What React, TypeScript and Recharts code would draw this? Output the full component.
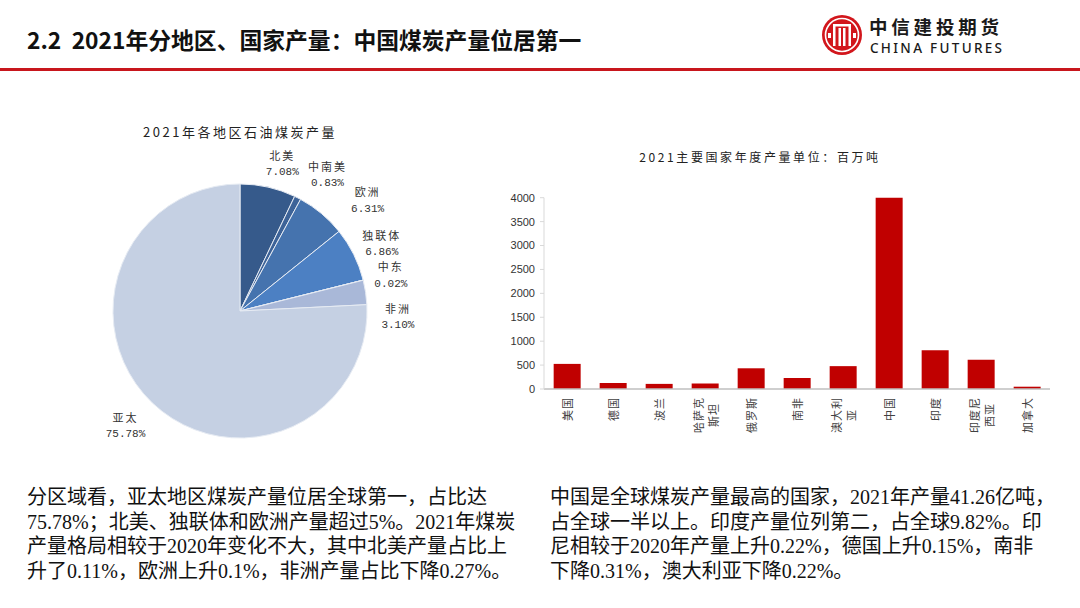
import React from "react";
import { PieChart, Pie, Cell, BarChart, Bar, XAxis, YAxis } from "recharts";

// ---------- data ----------
const regions = ["北美", "中南美", "欧洲", "独联体", "中东", "非洲", "亚太"];
const regionShares = [7.08, 0.83, 6.31, 6.86, 0.02, 3.1, 75.78];
const regionColors = ["#365a8b", "#3d6398", "#4573ae", "#4c80c3", "#6f95c9", "#a9b8d8", "#c5d0e3"];

const countries = ["美国", "德国", "波兰", "哈萨克\n斯坦", "俄罗斯", "南非", "澳大利\n亚", "中国", "印度", "印度尼\n西亚", "加拿大"];
const output = [525, 126, 107, 115, 433, 230, 478, 4126, 811, 614, 48];
const yTicks = [0, 500, 1000, 1500, 2000, 2500, 3000, 3500, 4000];

const pieTitle = "2021年各地区石油煤炭产量";
const barTitle = "2021主要国家年度产量单位：百万吨";
const headerTitle = "2.2  2021年分地区、国家产量：中国煤炭产量位居第一";

const leftText = [
  "分区域看，亚太地区煤炭产量位居全球第一，占比达",
  "75.78%；北美、独联体和欧洲产量超过5%。2021年煤炭",
  "产量格局相较于2020年变化不大，其中北美产量占比上",
  "升了0.11%，欧洲上升0.1%，非洲产量占比下降0.27%。",
];
const rightText = [
  "中国是全球煤炭产量最高的国家，2021年产量41.26亿吨，",
  "占全球一半以上。印度产量位列第二，占全球9.82%。印",
  "尼相较于2020年产量上升0.22%，德国上升0.15%，南非",
  "下降0.31%，澳大利亚下降0.22%。",
];

// label layout tweaks (angle nudge in degrees clockwise, extra radius in px)
const labelNudge = [
  [3.3, 26],
  [5.7, 35],
  [9.2, 42],
  [1.0, 30],
  [0.8, 28],
  [10.5, 31],
  [1.4, 35],
];

const pieData = regions.map((name, i) => ({ name, value: regionShares[i] }));
const barData = countries.map((name, i) => ({ name, value: output[i] }));

const CJK = '"Noto Sans CJK SC", "Noto Sans", sans-serif';

const PieLabel = (props: any) => {
  const { cx, cy, midAngle, outerRadius, index } = props;
  const [da, dr] = labelNudge[index] || [0, 30];
  const cw = 90 - midAngle + da;
  const rad = (cw * Math.PI) / 180;
  const r = outerRadius + dr;
  const x = cx + r * Math.sin(rad);
  const y = cy - r * Math.cos(rad);
  return (
    <g>
      <text x={x} y={y - 9} textAnchor="middle" dominantBaseline="central" fontSize={11} fill="#333" fontFamily={CJK} letterSpacing={2}>
        {regions[index]}
      </text>
      <text x={x} y={y + 8.5} textAnchor="middle" dominantBaseline="central" fontSize={11} fill="#333" fontFamily='"Liberation Mono", monospace'>
        {regionShares[index].toFixed(2) + "%"}
      </text>
    </g>
  );
};

const XTick = (props: any) => {
  const { x, y, payload } = props;
  const lines: string[] = String(payload.value).split("\n");
  const fs = 11;
  const maxLen = Math.max(...lines.map((l) => l.length));
  const block = maxLen * (fs + 1);
  const gap = 15;
  const n = lines.length;
  return (
    <g>
      {lines.map((l, i) => {
        const lx = x + (i - (n - 1) / 2) * gap;
        return (
          <text
            key={i}
            transform={`translate(${lx},${y}) rotate(-90)`}
            x={-block / 2}
            y={0}
            textAnchor="middle"
            dominantBaseline="central"
            fontSize={fs}
            letterSpacing={1}
            fill="#404040"
            fontFamily={CJK}
          >
            {l}
          </text>
        );
      })}
    </g>
  );
};

const Logo = () => (
  <svg width={42} height={42} viewBox="0 0 42 42" style={{ position: "absolute", left: 821, top: 14 }}>
    <circle cx={21} cy={21} r={20} fill="#d2161c" />
    <circle cx={21} cy={21} r={16.5} fill="none" stroke="#fff" strokeWidth={1.6} />
    <rect x={12} y={10} width={18} height={2.5} fill="#fff" />
    <rect x={12} y={10} width={2.5} height={22} fill="#fff" />
    <rect x={27.5} y={10} width={2.5} height={22} fill="#fff" />
    <rect x={17.5} y={14} width={2.5} height={18} fill="#fff" />
    <rect x={22} y={14} width={2.5} height={18} fill="#fff" />
    <rect x={7} y={19} width={3} height={5} fill="#fff" />
    <rect x={32} y={19} width={3} height={5} fill="#fff" />
  </svg>
);

export default function App() {
  return (
    <div style={{ position: "absolute", left: 0, top: 0, width: 1080, height: 608, background: "#fff", overflow: "hidden" }}>
      {/* header */}
      <div
        style={{
          position: "absolute",
          left: 27,
          top: 22,
          fontFamily: CJK,
          fontWeight: 700,
          fontSize: 22.8,
          lineHeight: "36px",
          color: "#111",
          whiteSpace: "pre",
        }}
      >
        {headerTitle}
      </div>
      <Logo />
      <div style={{ position: "absolute", left: 869, top: 16.75, fontFamily: CJK, fontWeight: 700, fontSize: 18.5, lineHeight: "18.5px", color: "#1a1a1a", letterSpacing: 3.8 }}>
        中信建投期货
      </div>
      <div style={{ position: "absolute", left: 870, top: 41.5, fontFamily: '"Noto Sans", sans-serif', fontWeight: 500, fontSize: 13.5, lineHeight: "13.5px", color: "#1a1a1a", letterSpacing: 2.3 }}>
        CHINA FUTURES
      </div>
      <div style={{ position: "absolute", left: 0, top: 68, width: 1080, height: 3, background: "#c8161d" }} />

      {/* pie chart */}
      <div
        style={{
          position: "absolute",
          left: 40,
          top: 121,
          width: 400,
          textAlign: "center",
          fontFamily: CJK,
          fontSize: 13,
          letterSpacing: 2.5,
          color: "#222",
          lineHeight: "22px",
        }}
      >
        {pieTitle}
      </div>
      <div style={{ position: "absolute", left: 0, top: 100 }}>
        <PieChart width={480} height={370} margin={{ top: 0, right: 0, bottom: 0, left: 0 }}>
          <Pie
            data={pieData}
            dataKey="value"
            nameKey="name"
            cx={240}
            cy={211}
            outerRadius={127}
            startAngle={90}
            endAngle={-270}
            stroke="#e6ebf3"
            strokeWidth={1}
            label={PieLabel}
            labelLine={false}
            isAnimationActive={false}
          >
            {pieData.map((d, i) => (
              <Cell key={d.name} fill={regionColors[i]} />
            ))}
          </Pie>
        </PieChart>
      </div>

      {/* bar chart */}
      <div
        style={{
          position: "absolute",
          left: 560,
          top: 146,
          width: 400,
          textAlign: "center",
          fontFamily: CJK,
          fontSize: 12,
          letterSpacing: 2.6,
          color: "#222",
          lineHeight: "22px",
        }}
      >
        {barTitle}
      </div>
      <div style={{ position: "absolute", left: 480, top: 140 }}>
        <BarChart width={580} height={330} data={barData} margin={{ top: 57.7, right: 10, left: 0, bottom: 0 }} barCategoryGap="21%">
          <XAxis
            dataKey="name"
            interval={0}
            height={81}
            tickLine={false}
            axisLine={{ stroke: "#bfbfbf", strokeWidth: 1.5 }}
            tick={<XTick />}
          />
          <YAxis
            width={64}
            domain={[0, 4000]}
            ticks={yTicks}
            allowDataOverflow
            tickSize={4}
            tickMargin={5}
            tickLine={{ stroke: "#d9d9d9" }}
            axisLine={{ stroke: "#d9d9d9" }}
            tick={{ fontSize: 11, fill: "#333", fontFamily: '"Liberation Sans", Arial, sans-serif' }}
          />
          <Bar dataKey="value" fill="#c00000" isAnimationActive={false} />
        </BarChart>
      </div>

      {/* body text */}
      <div style={{ position: "absolute", left: 27, top: 485, fontFamily: '"Liberation Serif", "Noto Sans CJK SC", serif', fontSize: 20, lineHeight: "24.5px", color: "#111", whiteSpace: "pre" }}>
        {leftText.map((l, i) => (
          <div key={i}>{l}</div>
        ))}
      </div>
      <div style={{ position: "absolute", left: 550, top: 485, fontFamily: '"Liberation Serif", "Noto Sans CJK SC", serif', fontSize: 20, lineHeight: "24.5px", color: "#111", whiteSpace: "pre" }}>
        {rightText.map((l, i) => (
          <div key={i}>{l}</div>
        ))}
      </div>
    </div>
  );
}
